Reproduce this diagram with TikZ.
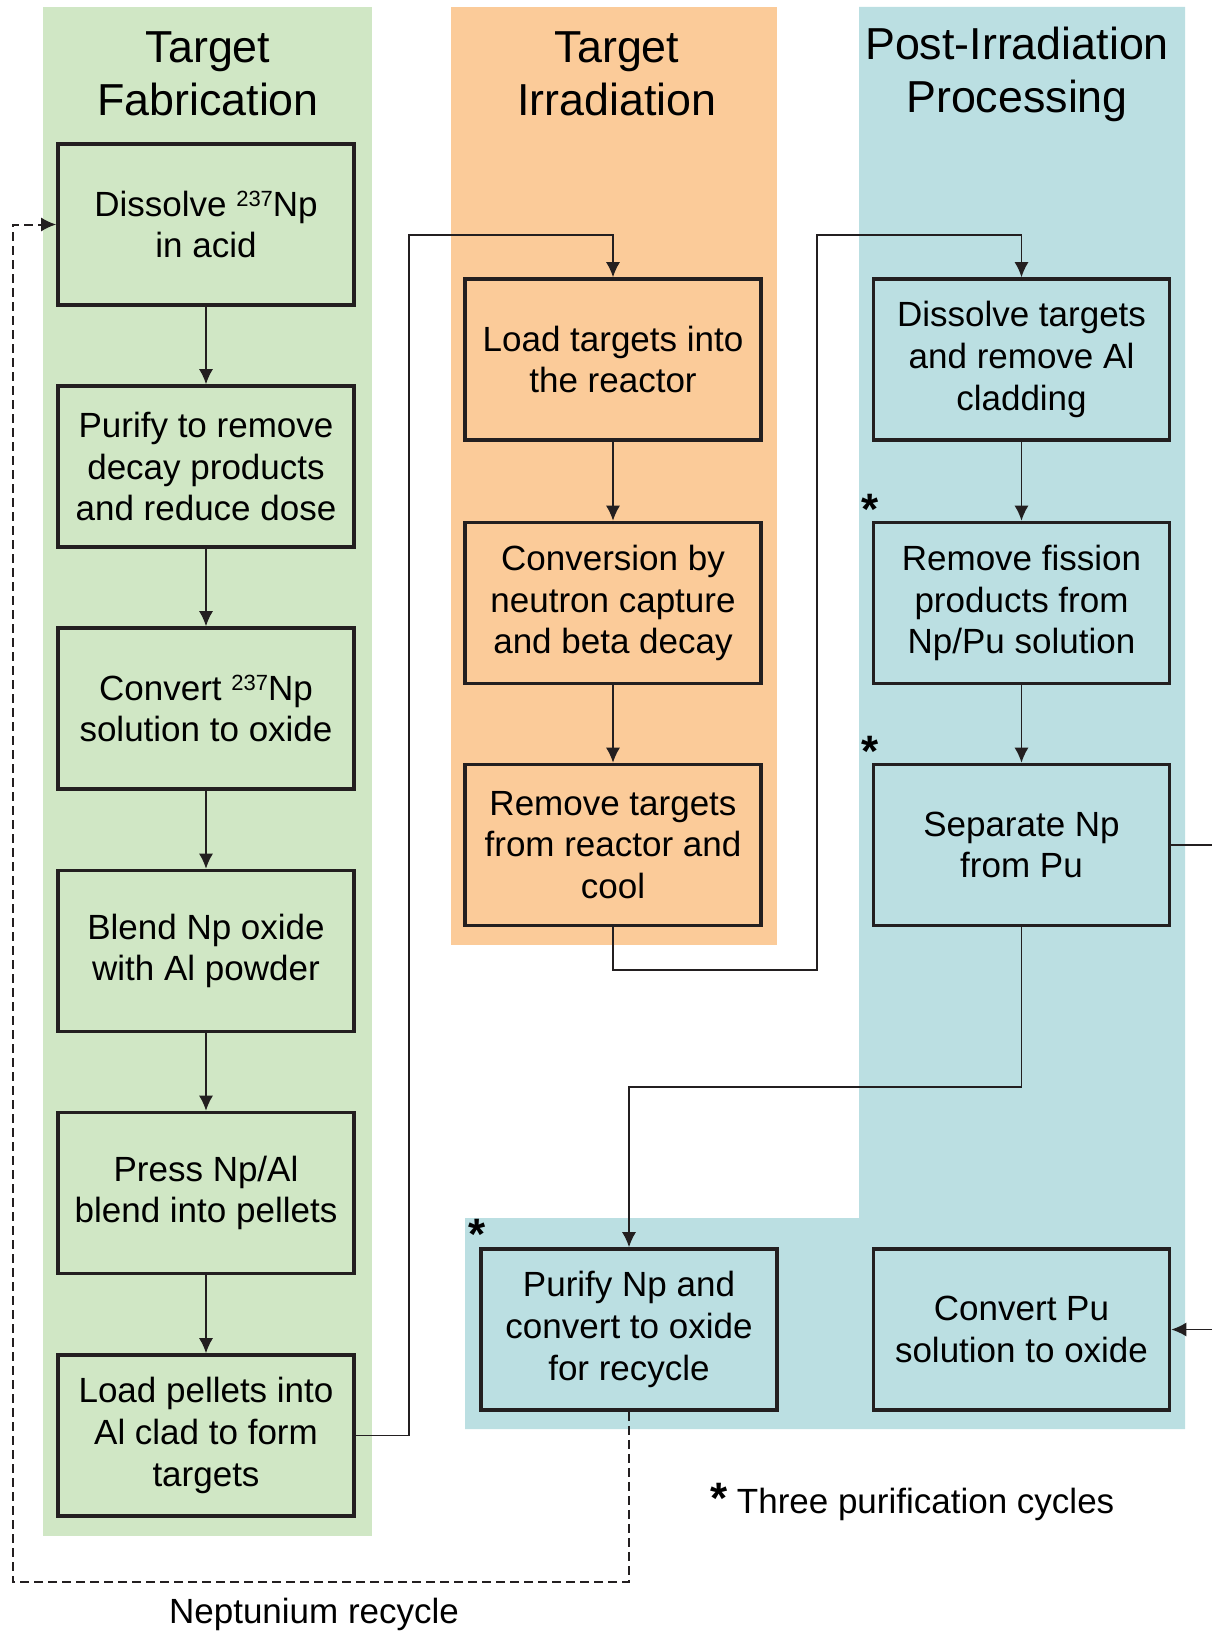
\documentclass[tikz,border=0pt]{standalone}
\usepackage{fontspec}
\setmainfont{Liberation Sans}
\usetikzlibrary{arrows.meta}

\definecolor{fabgreen}{RGB}{208,231,197}
\definecolor{irrorange}{RGB}{251,203,153}
\definecolor{postblue}{RGB}{187,223,226}
\definecolor{boxline}{RGB}{35,31,32}

\newcommand{\isotope}[1]{\raisebox{0.55ex}{\fontsize{11}{11}\selectfont #1}}

\begin{document}
\begin{tikzpicture}[x=0.5pt, y=-0.5pt,
    stepbox/.style={draw=boxline, line width=1.8pt, minimum width=148pt,
      minimum height=80.5pt, inner sep=0pt, align=center,
      font=\fontsize{17.5}{20.8}\selectfont},
    colhead/.style={align=center, font=\fontsize{22.4}{26.5}\selectfont},
    link/.style={draw=boxline, line width=0.75pt},
    recycle/.style={link, line width=1pt, dash pattern=on 4.5pt off 2.5pt},
    star/.style={font=\fontsize{22}{22}\selectfont\bfseries, inner sep=0pt},
    >={Latex[length=7.5pt,width=7pt]}]
    \useasboundingbox (0,0) rectangle (1212,1632);

    % column backgrounds
    \fill[fabgreen] (43,7) rectangle (372,1536);
    \fill[irrorange] (451,7) rectangle (777,945);
    \fill[postblue] (859,7) -- (1185,7) -- (1185,1429) -- (465,1429)
      -- (465,1218) -- (859,1218) -- cycle;

    \node[colhead] (hfab) at (208,74) {Target\\Fabrication};
    \node[colhead] (hirr) at (617,74) {Target\\Irradiation};
    \node[colhead] (hpost) at (1017,74) {Post-Irradiation\\Processing};

    % fabrication
    \node[stepbox] (dis) at (206,224.5) {Dissolve \isotope{237}Np\\in acid};
    \node[stepbox] (pur) at (206,466.5) {Purify to remove\\decay products\\and reduce dose};
    \node[stepbox] (cnv) at (206,708.5) {Convert \isotope{237}Np\\solution to oxide};
    \node[stepbox] (bld) at (206,951) {Blend Np oxide\\with Al powder};
    \node[stepbox] (prs) at (206,1193) {Press Np/Al\\blend into pellets};
    \node[stepbox] (lpl) at (206,1435.5) {Load pellets into\\Al clad to form\\targets};

    % irradiation
    \node[stepbox] (ltg) at (613,359.5) {Load targets into\\the reactor};
    \node[stepbox] (ncp) at (613,603) {Conversion by\\neutron capture\\and beta decay};
    \node[stepbox] (rtg) at (613,845) {Remove targets\\from reactor and\\cool};

    % processing
    \node[stepbox] (dtg) at (1021.5,359.5) {Dissolve targets\\and remove Al\\cladding};
    \node[stepbox] (rfp) at (1021.5,603) {Remove fission\\products from\\Np/Pu solution};
    \node[stepbox] (snp) at (1021.5,845) {Separate Np\\from Pu};
    \node[stepbox] (pnp) at (629,1329.5) {Purify Np and\\convert to oxide\\for recycle};
    \node[stepbox] (cpu) at (1021.5,1329.5) {Convert Pu\\solution to oxide};

    \node[star] (s1) at (870,509) {*};
    \node[star] (s2) at (870,751) {*};
    \node[star] (s3) at (477,1234) {*};

    \coordinate (upA) at (409,235);
    \coordinate (downB) at (817,970);
    \coordinate (upB) at (817,235);
    \coordinate (turnC) at (629,1087);
    \coordinate (puout) at (1212,845);
    \coordinate (puin) at (1212,1329.5);
    \coordinate (recyc) at (12.5,1582);

    \foreach \a/\b in {dis/pur, pur/cnv, cnv/bld, bld/prs, prs/lpl,
                       ltg/ncp, ncp/rtg, dtg/rfp, rfp/snp} {
      \draw[link, ->] (\a) -- (\b);
    }
    \draw[link, ->] (lpl.east) -| (upA) -| (ltg.north);
    \draw[link, ->] (rtg.south) |- (downB) -- (upB) -| (dtg.north);
    \draw[link, ->] (snp.south) |- (turnC) -- (pnp.north);
    \draw[link] (snp.east) -- (puout);
    \draw[link, ->] (puin) -- (cpu.east);
    \draw[recycle, ->] (pnp.south) |- (recyc) |- (dis.west);

    \node[font=\fontsize{17.5}{20}\selectfont] (nrec) at (314,1614) {Neptunium recycle};
    \node[anchor=west, font=\fontsize{17.5}{20}\selectfont] (note) at (703,1502)
      {{\fontsize{22}{22}\selectfont\bfseries *} Three purification cycles};
  \end{tikzpicture}
\end{document}
